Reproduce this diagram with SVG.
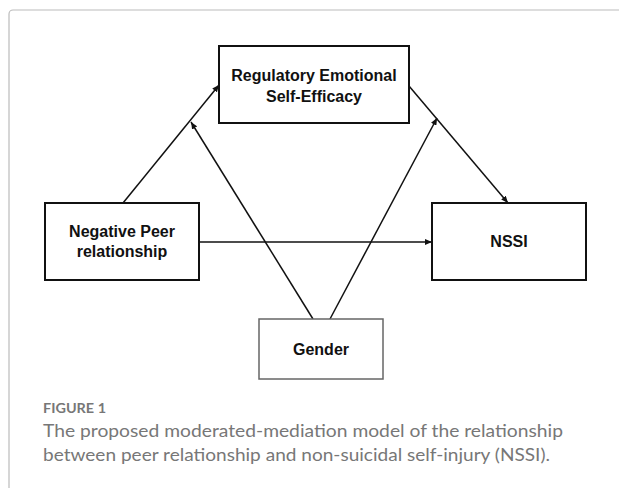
<svg xmlns="http://www.w3.org/2000/svg" width="619" height="488" viewBox="0 0 619 488">
<style>
.box{fill:#fff;stroke:#111;stroke-width:2}
.gbox{fill:#fff;stroke:#666;stroke-width:1.5}
.lbl{font-family:"Liberation Sans",Arial,sans-serif;font-weight:bold;font-size:16px;fill:#111;text-anchor:middle}
.conn{stroke:#111;stroke-width:1.5;fill:none;marker-end:url(#ah)}
.cap{font-family:"Lato","Liberation Sans",sans-serif;fill:#777}
</style>
<defs>
<marker id="ah" markerUnits="userSpaceOnUse" markerWidth="8" markerHeight="6" refX="7" refY="3" orient="auto">
<path d="M0,0 L7,3 L0,6 Z" fill="#111"/>
</marker>
</defs>
<rect x="9" y="10" width="700" height="600" rx="4" fill="#fff" stroke="#bbb" stroke-width="1.2"/>
<g id="connectors">
<line class="conn" x1="123" y1="203" x2="219" y2="85"/>
<line class="conn" x1="409" y1="86" x2="508" y2="203"/>
<line class="conn" x1="199" y1="242" x2="432" y2="242"/>
<line class="conn" x1="313" y1="319" x2="191" y2="122"/>
<line class="conn" x1="330" y1="319" x2="437" y2="118"/>
</g>
<g id="node-rese">
<rect class="box" x="219" y="46" width="190" height="77"/>
<text class="lbl" x="314" y="81">Regulatory Emotional</text>
<text class="lbl" x="314" y="102">Self-Efficacy</text>
</g>
<g id="node-npr">
<rect class="box" x="45" y="203" width="154" height="77"/>
<text class="lbl" x="122" y="237">Negative Peer</text>
<text class="lbl" x="122" y="257">relationship</text>
</g>
<g id="node-nssi">
<rect class="box" x="432" y="203" width="154" height="77"/>
<text class="lbl" x="509" y="247">NSSI</text>
</g>
<g id="node-gender">
<rect class="gbox" x="259" y="319" width="124" height="60"/>
<text class="lbl" x="321" y="355">Gender</text>
</g>
<g id="caption">
<text class="cap" x="43" y="413" font-size="14" font-weight="bold" textLength="63" lengthAdjust="spacingAndGlyphs">FIGURE 1</text>
<text class="cap" x="43" y="437" font-size="16.5" textLength="520" lengthAdjust="spacingAndGlyphs">The proposed moderated-mediation model of the relationship</text>
<text class="cap" x="43" y="461" font-size="16.5" textLength="507" lengthAdjust="spacingAndGlyphs">between peer relationship and non-suicidal self-injury (NSSI).</text>
</g>
</svg>
